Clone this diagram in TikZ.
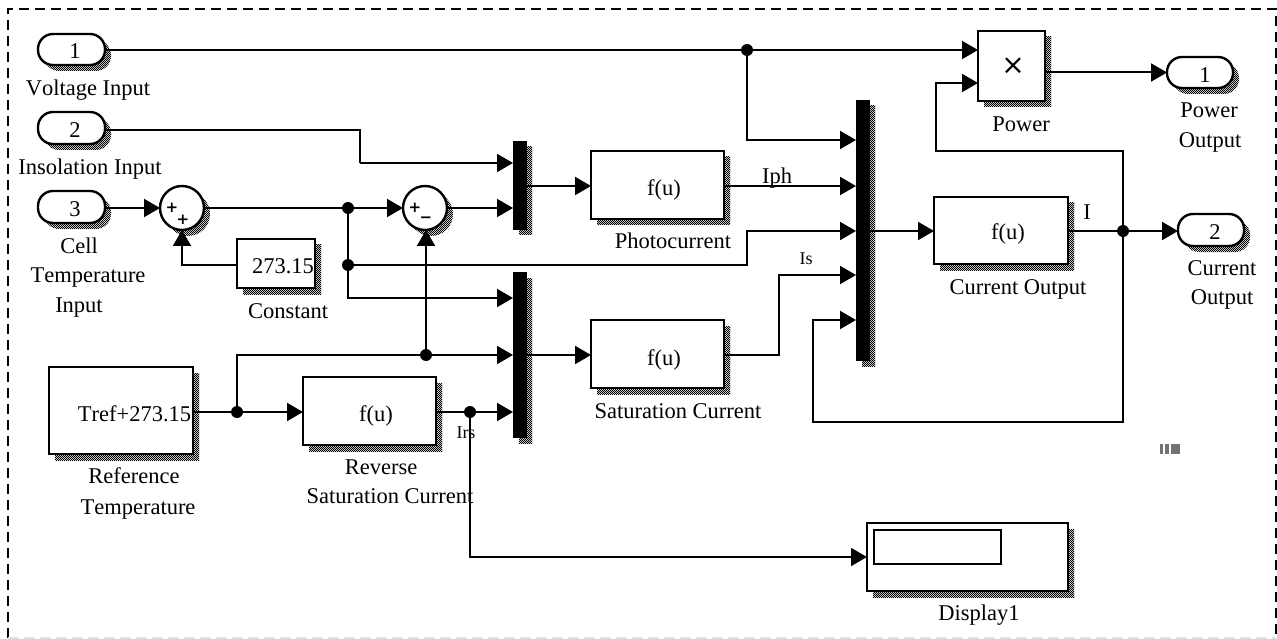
\documentclass[tikz,border=0pt]{standalone}
\usepackage{fontspec}
\setmainfont[Kerning=Off]{Liberation Serif}
\newfontfamily\symfont{DejaVu Sans}
\usetikzlibrary{arrows.meta,patterns,shadows}
\pgfdeclarepatternformonly{dither}{\pgfqpoint{-0.1pt}{-0.1pt}}{\pgfqpoint{2.1pt}{2.1pt}}{\pgfqpoint{2pt}{2pt}}{%
  \pgfpathrectangle{\pgfqpoint{0pt}{0pt}}{\pgfqpoint{1pt}{1pt}}%
  \pgfpathrectangle{\pgfqpoint{1pt}{1pt}}{\pgfqpoint{1pt}{1pt}}%
  \pgfusepath{fill}}
\tikzset{
  shade5/.style={general shadow={pattern=dither,pattern color=black,shadow xshift=6pt,shadow yshift=-6pt}},
  blockbox/.style={draw=black,line width=2.4pt,fill=white,rectangle,inner sep=0pt,outer sep=0pt,shade5},
  portbox/.style={blockbox,rounded corners=15pt},
  sumbox/.style={draw=black,line width=2.4pt,fill=white,circle,inner sep=0pt,outer sep=0pt,minimum size=44pt,shade5},
  muxbox/.style={draw=black,line width=0.5pt,fill=black,rectangle,inner sep=0pt,outer sep=0pt,shade5},
  wire/.style={draw=black,line width=2pt},
  awire/.style={wire,-{Triangle[length=16pt,width=18pt]}},
  jdot/.style={circle,fill=black,inner sep=0pt,minimum size=12pt},
  lbl/.style={anchor=base,inner sep=0pt,yshift=-1pt,font=\fontsize{22.5pt}{24pt}\selectfont},
  smalllbl/.style={anchor=base,inner sep=0pt,yshift=-1pt,font=\fontsize{18pt}{20pt}\selectfont},
  signlbl/.style={anchor=center,inner sep=0pt,font=\symfont\bfseries\fontsize{15pt}{16pt}\selectfont},
  framedash/.style={line width=1.3pt,dash pattern=on 10pt off 6pt},
}
\newcommand{\blk}[6][blockbox]{%
  \node[#1,minimum width={(#5-#3)*1pt},minimum height={(#6-#4)*1pt}] (#2) at ({(#3+#5)/2},{(#4+#6)/2}) {};}
\begin{document}
\begin{tikzpicture}[x=1pt,y=-1pt]
\useasboundingbox (0,0) rectangle (1277,639);
% frame
\draw[framedash,black] (8,638) -- (8,9) -- (1276,9) -- (1276,638);
\draw[framedash,black!12] (8,638) -- (1276,638);
% blocks
\blk[portbox]{inA}{38}{34}{105}{65}
\blk[portbox]{inB}{38}{112}{105}{144}
\blk[portbox]{inC}{38}{191}{105}{223}
\node[sumbox] (sumA) at (182,208) {};
\node[sumbox] (sumB) at (425,208) {};
\blk{const}{237}{239}{315}{288}
\blk{tref}{49}{367}{193}{454}
\blk{rsc}{303}{377}{436}{445}
\blk[muxbox]{muxA}{513}{141}{526}{229}
\blk[muxbox]{muxB}{513}{272}{526}{437}
\blk[muxbox]{muxC}{856}{100}{869}{360}
\blk{photo}{591}{151}{724}{219}
\blk{sat}{591}{320}{724}{388}
\blk{cur}{934}{197}{1068}{264}
\blk{pow}{978}{31}{1045}{101}
\blk[portbox]{outA}{1167}{57}{1233}{88}
\blk[portbox]{outB}{1178}{214}{1244}{246}
\blk{disp}{867}{523}{1068}{591}
\node[draw=black,line width=2.4pt,fill=white,rectangle,inner sep=0pt,minimum width=127pt,minimum height=34pt] (dispwin) at (937.5,547) {};
% named ports and junctions
\coordinate (mAa) at (513,163);
\coordinate (mAb) at (513,208);
\coordinate (mBa) at (513,298);
\coordinate (mBb) at (513,355);
\coordinate (mBc) at (513,412);
\coordinate (mCa) at (856,140);
\coordinate (mCb) at (856,186);
\coordinate (mCc) at (856,231);
\coordinate (mCd) at (856,275);
\coordinate (mCe) at (856,320);
\coordinate (powA) at (978,50);
\coordinate (powB) at (978,83);
\node[jdot] (j1) at (747,50) {};
\node[jdot] (j2) at (348,208) {};
\node[jdot] (j3) at (348,265) {};
\node[jdot] (j4) at (237,412) {};
\node[jdot] (j5) at (426,355) {};
\node[jdot] (j6) at (470,412) {};
\node[jdot] (j7) at (1123,231) {};
% connectors
\draw[awire] (inA.east |- powA) -- (powA);
\draw[awire] (j1.center) |- (mCa);
\draw[wire] (inB.east |- 0,130) -- (360,130) -- (360,163);
\draw[awire] (360,163) -- (mAa);
\draw[awire] (inC.east |- sumA.west) -- (sumA.west);
\draw[awire] (sumA.east) -- (sumB.west);
\draw[awire] (sumB.east) -- (mAb);
\draw[awire] (const.west |- 0,265) -| (sumA.south);
\draw[wire] (j2.center) -- (j3.center);
\draw[awire] (j3.center) |- (mBa);
\draw[awire] (j3.center) -- (747,265) -- (747,231) -- (mCc);
\draw[awire] (tref.east |- j4) -- (rsc.west |- j4);
\draw[awire] (j4.center) |- (mBb);
\draw[awire] (j5.center) -- (426,230);
\draw[awire] (rsc.east |- j6) -- (mBc);
\draw[awire] (j6.center) |- (disp.west);
\draw[awire] (muxA.east |- mCb) -- (photo.west |- mCb);
\draw[awire] (photo.east |- mCb) -- (mCb);
\draw[awire] (muxB.east |- mBb) -- (sat.west |- mBb);
\draw[awire] (sat.east |- mBb) -- (779,355) -- (779,275) -- (mCd);
\draw[awire] (muxC.east |- mCc) -- (cur.west |- mCc);
\draw[awire] (cur.east |- mCc) -- (outB.west |- mCc);
\draw[awire] (j7.center) -- (1123,151) -- (936,151) -- (936,83) -- (powB);
\draw[awire] (j7.center) -- (1123,422) -- (813,422) -- (813,320) -- (mCe);
\draw[awire] (pow.east |- outA.west) -- (outA.west);
% texts
\node[lbl] (t1) at (75,58) {1};
\node[lbl] (t2) at (75,137) {2};
\node[lbl] (t3) at (75,216) {3};
\node[lbl] (tVolt) at (88,95) {Voltage Input};
\node[lbl] (tIns) at (90,174) {Insolation Input};
\node[lbl] (tCell) at (79,252) {Cell};
\node[lbl] (tTemp) at (88,281) {Temperature};
\node[lbl] (tInp) at (79,311) {Input};
\node[signlbl] (sa) at (172,208) {+};
\node[signlbl] (sb) at (183,220) {+};
\node[signlbl] (sc) at (415,208) {+};
\node[signlbl] (sd) at (426,220) {−};
\node[lbl] (tC) at (283,272) {273.15};
\node[lbl] (tCon) at (288,317) {Constant};
\node[lbl] (tT) at (134.5,420) {Tref+273.15};
\node[lbl] (tR1) at (134,482) {Reference};
\node[lbl] (tR2) at (138,513) {Temperature};
\node[lbl] (fA) at (376,420) {f(u)};
\node[lbl] (tS1) at (381,473) {Reverse};
\node[lbl] (tS2) at (390,502) {Saturation Current};
\node[smalllbl] (tIrs) at (466,437) {Irs};
\node[lbl] (fB) at (664,195) {f(u)};
\node[lbl] (tPh) at (673,247) {Photocurrent};
\node[lbl] (tIph) at (777,183) {Iph};
\node[smalllbl] (tIs) at (806,264) {Is};
\node[lbl] (fC) at (664,364) {f(u)};
\node[lbl] (tSat) at (678,417) {Saturation Current};
\node[lbl] (fD) at (1008,239) {f(u)};
\node[lbl] (tCO) at (1018,293) {Current Output};
\node[lbl] (tI) at (1087,218) {I};
\node[anchor=center,inner sep=0pt,font=\symfont\fontsize{28pt}{30pt}\selectfont] (tX) at (1013,66) {×};
\node[lbl] (tPow) at (1021,131) {Power};
\node[lbl] (t4) at (1205,82) {1};
\node[lbl] (tPO1) at (1209,117) {Power};
\node[lbl] (tPO2) at (1210,147) {Output};
\node[lbl] (t5) at (1215,239) {2};
\node[lbl] (tCu1) at (1222,275) {Current};
\node[lbl] (tCu2) at (1222,303) {Output};
\node[lbl] (tDisp) at (979,619) {Display1};
% small mark
\fill[black!55] (1160,444) rectangle (1163.3,454);
\fill[black!55] (1165.3,444) rectangle (1168.7,454);
\fill[black!55] (1170.7,444) rectangle (1180,454);
\end{tikzpicture}
\end{document}
